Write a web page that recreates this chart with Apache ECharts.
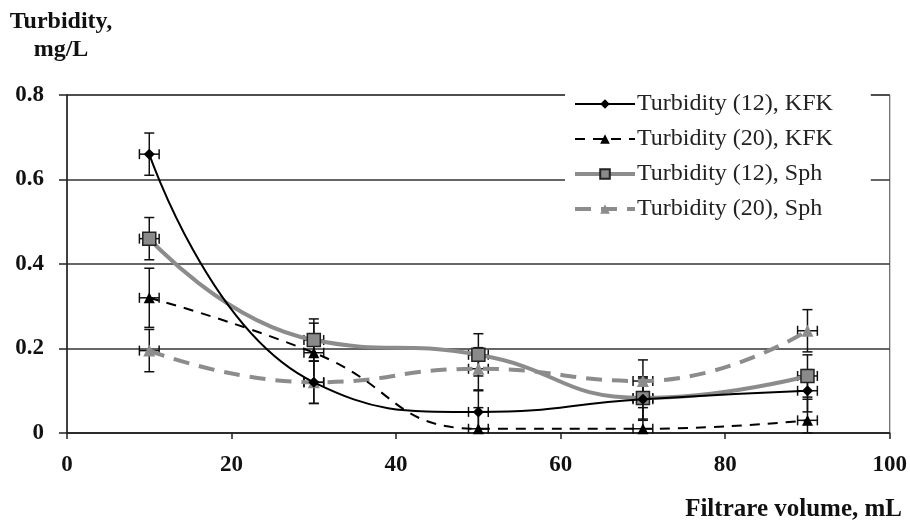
<!DOCTYPE html>
<html><head><meta charset="utf-8">
<script src="https://cdn.jsdelivr.net/npm/echarts@6/dist/echarts.min.js"></script>
<style>html,body{margin:0;padding:0;background:#fff}#c{width:910px;height:521px}</style>
</head><body><div id="c"></div>
<script>
const xValues = [10, 30, 50, 70, 90];
const kfk12 = [0.66, 0.12, 0.05, 0.08, 0.10];
const kfk20 = [0.32, 0.19, 0.01, 0.01, 0.03];
const sph12 = [0.46, 0.22, 0.185, 0.083, 0.135];
const sph20 = [0.195, 0.12, 0.152, 0.123, 0.242];
const kfk12Err = [0.05, 0.05, 0.05, 0.05, 0.05];
const kfk20Err = [0.07, 0.07, 0.05, 0.05, 0.05];
const sph12Err = [0.05, 0.05, 0.05, 0.05, 0.05];
const sph20Err = [0.05, 0.05, 0.05, 0.05, 0.05];
const xErr = 1.2;
const seriesNames = ['Turbidity (12), KFK', 'Turbidity (20), KFK', 'Turbidity (12), Sph', 'Turbidity (20), Sph'];
const xTicks = [0, 20, 40, 60, 80, 100];
const yTicks = [0, 0.2, 0.4, 0.6, 0.8];
const yAxisTitle = 'Turbidity,\nmg/L';
const xAxisTitle = 'Filtrare volume, mL';

const chart = echarts.init(document.getElementById('c'));
const serif = 'Liberation Serif';

function pairs(ys) { return xValues.map((x, i) => [x, ys[i]]); }
function errData(ys, errs) { return xValues.map((x, i) => [x, ys[i], errs[i]]); }

function errSeries(ys, errs) {
  return {
    type: 'custom', z: 1, silent: true,
    data: errData(ys, errs),
    renderItem: function (params, api) {
      const x = api.value(0), y = api.value(1), e = api.value(2);
      const top = api.coord([x, y + e]);
      const bot = api.coord([x, Math.max(0, y - e)]);
      const l = api.coord([x - xErr, y]);
      const r = api.coord([x + xErr, y]);
      const c = 5;
      const st = { stroke: '#111', lineWidth: 1.5 };
      const seg = (x1, y1, x2, y2) => ({ type: 'line', shape: { x1, y1, x2, y2 }, style: st });
      return {
        type: 'group', children: [
          seg(top[0], top[1], bot[0], bot[1]),
          seg(top[0] - c, top[1], top[0] + c, top[1]),
          seg(bot[0] - c, bot[1], bot[0] + c, bot[1]),
          seg(l[0], l[1], r[0], r[1]),
          seg(l[0], l[1] - c, l[0], l[1] + c),
          seg(r[0], r[1] - c, r[0], r[1] + c)
        ]
      };
    }
  };
}

const boldText = { fontFamily: serif, fontWeight: 'bold', fontSize: 23, color: '#111' };
const legendWidths = [2, 2, 4, 4];

const option = {
  animation: false,
  backgroundColor: '#fff',
  title: [
    { text: yAxisTitle, left: 61, top: 8, padding: 0, textAlign: 'center',
      textStyle: { fontFamily: serif, fontWeight: 'bold', fontSize: 24, color: '#111', lineHeight: 28 } },
    { text: xAxisTitle, right: 8, top: 497, padding: 0,
      textStyle: { fontFamily: serif, fontWeight: 'bold', fontSize: 25, color: '#111' } }
  ],
  grid: { left: 67, right: 18, top: 95, bottom: 88, show: true, borderColor: '#444', borderWidth: 1 },
  legend: {
    orient: 'vertical', left: 565, top: 84,
    backgroundColor: '#fff',
    padding: [8, 38, 14, 8],
    itemWidth: 60, itemHeight: 12, itemGap: 11,
    textStyle: { fontFamily: serif, fontSize: 24, color: '#222', padding: [0, 0, 0, -3] },
    data: seriesNames.map((n, i) => ({ name: n, lineStyle: { width: legendWidths[i] } }))
  },
  xAxis: {
    type: 'value', min: 0, max: 100, interval: 20,
    axisLine: { show: true, lineStyle: { color: '#222', width: 1.5 } },
    axisTick: { show: true, inside: false, length: 6, lineStyle: { color: '#222', width: 1.5 } },
    axisLabel: Object.assign({ margin: 21, customValues: xTicks }, boldText),
    splitLine: { show: false }
  },
  yAxis: {
    type: 'value', min: 0, max: 0.8, interval: 0.2,
    axisLine: { show: true, lineStyle: { color: '#222', width: 1.5 } },
    axisTick: { show: true, inside: false, length: 8, lineStyle: { color: '#222', width: 1.5 } },
    axisLabel: Object.assign({ margin: 23, customValues: yTicks, formatter: v => String(+v.toFixed(1)) }, boldText),
    splitLine: { show: true, lineStyle: { color: '#333', width: 1.5 } }
  },
  series: [
    errSeries(kfk12, kfk12Err), errSeries(kfk20, kfk20Err), errSeries(sph12, sph12Err), errSeries(sph20, sph20Err),
    { name: seriesNames[0], type: 'line', z: 5, smooth: 0.5, data: pairs(kfk12),
      symbol: 'diamond', symbolSize: 11, itemStyle: { color: '#000' }, lineStyle: { color: '#000', width: 2 } },
    { name: seriesNames[1], type: 'line', z: 5, smooth: 0.5, data: pairs(kfk20),
      symbol: 'triangle', symbolSize: 11, itemStyle: { color: '#000' }, lineStyle: { color: '#000', width: 2, type: [10, 8] } },
    { name: seriesNames[2], type: 'line', z: 4, smooth: 0.5, data: pairs(sph12),
      symbol: 'rect', symbolSize: 13, itemStyle: { color: '#8a8a8a', borderColor: '#222', borderWidth: 1.5 }, lineStyle: { color: '#8c8c8c', width: 4 } },
    { name: seriesNames[3], type: 'line', z: 4, smooth: 0.5, data: pairs(sph20),
      symbol: 'triangle', symbolSize: 12, itemStyle: { color: '#8c8c8c' }, lineStyle: { color: '#8c8c8c', width: 4, type: [16, 10] } }
  ]
};
chart.setOption(option);
</script></body></html>
